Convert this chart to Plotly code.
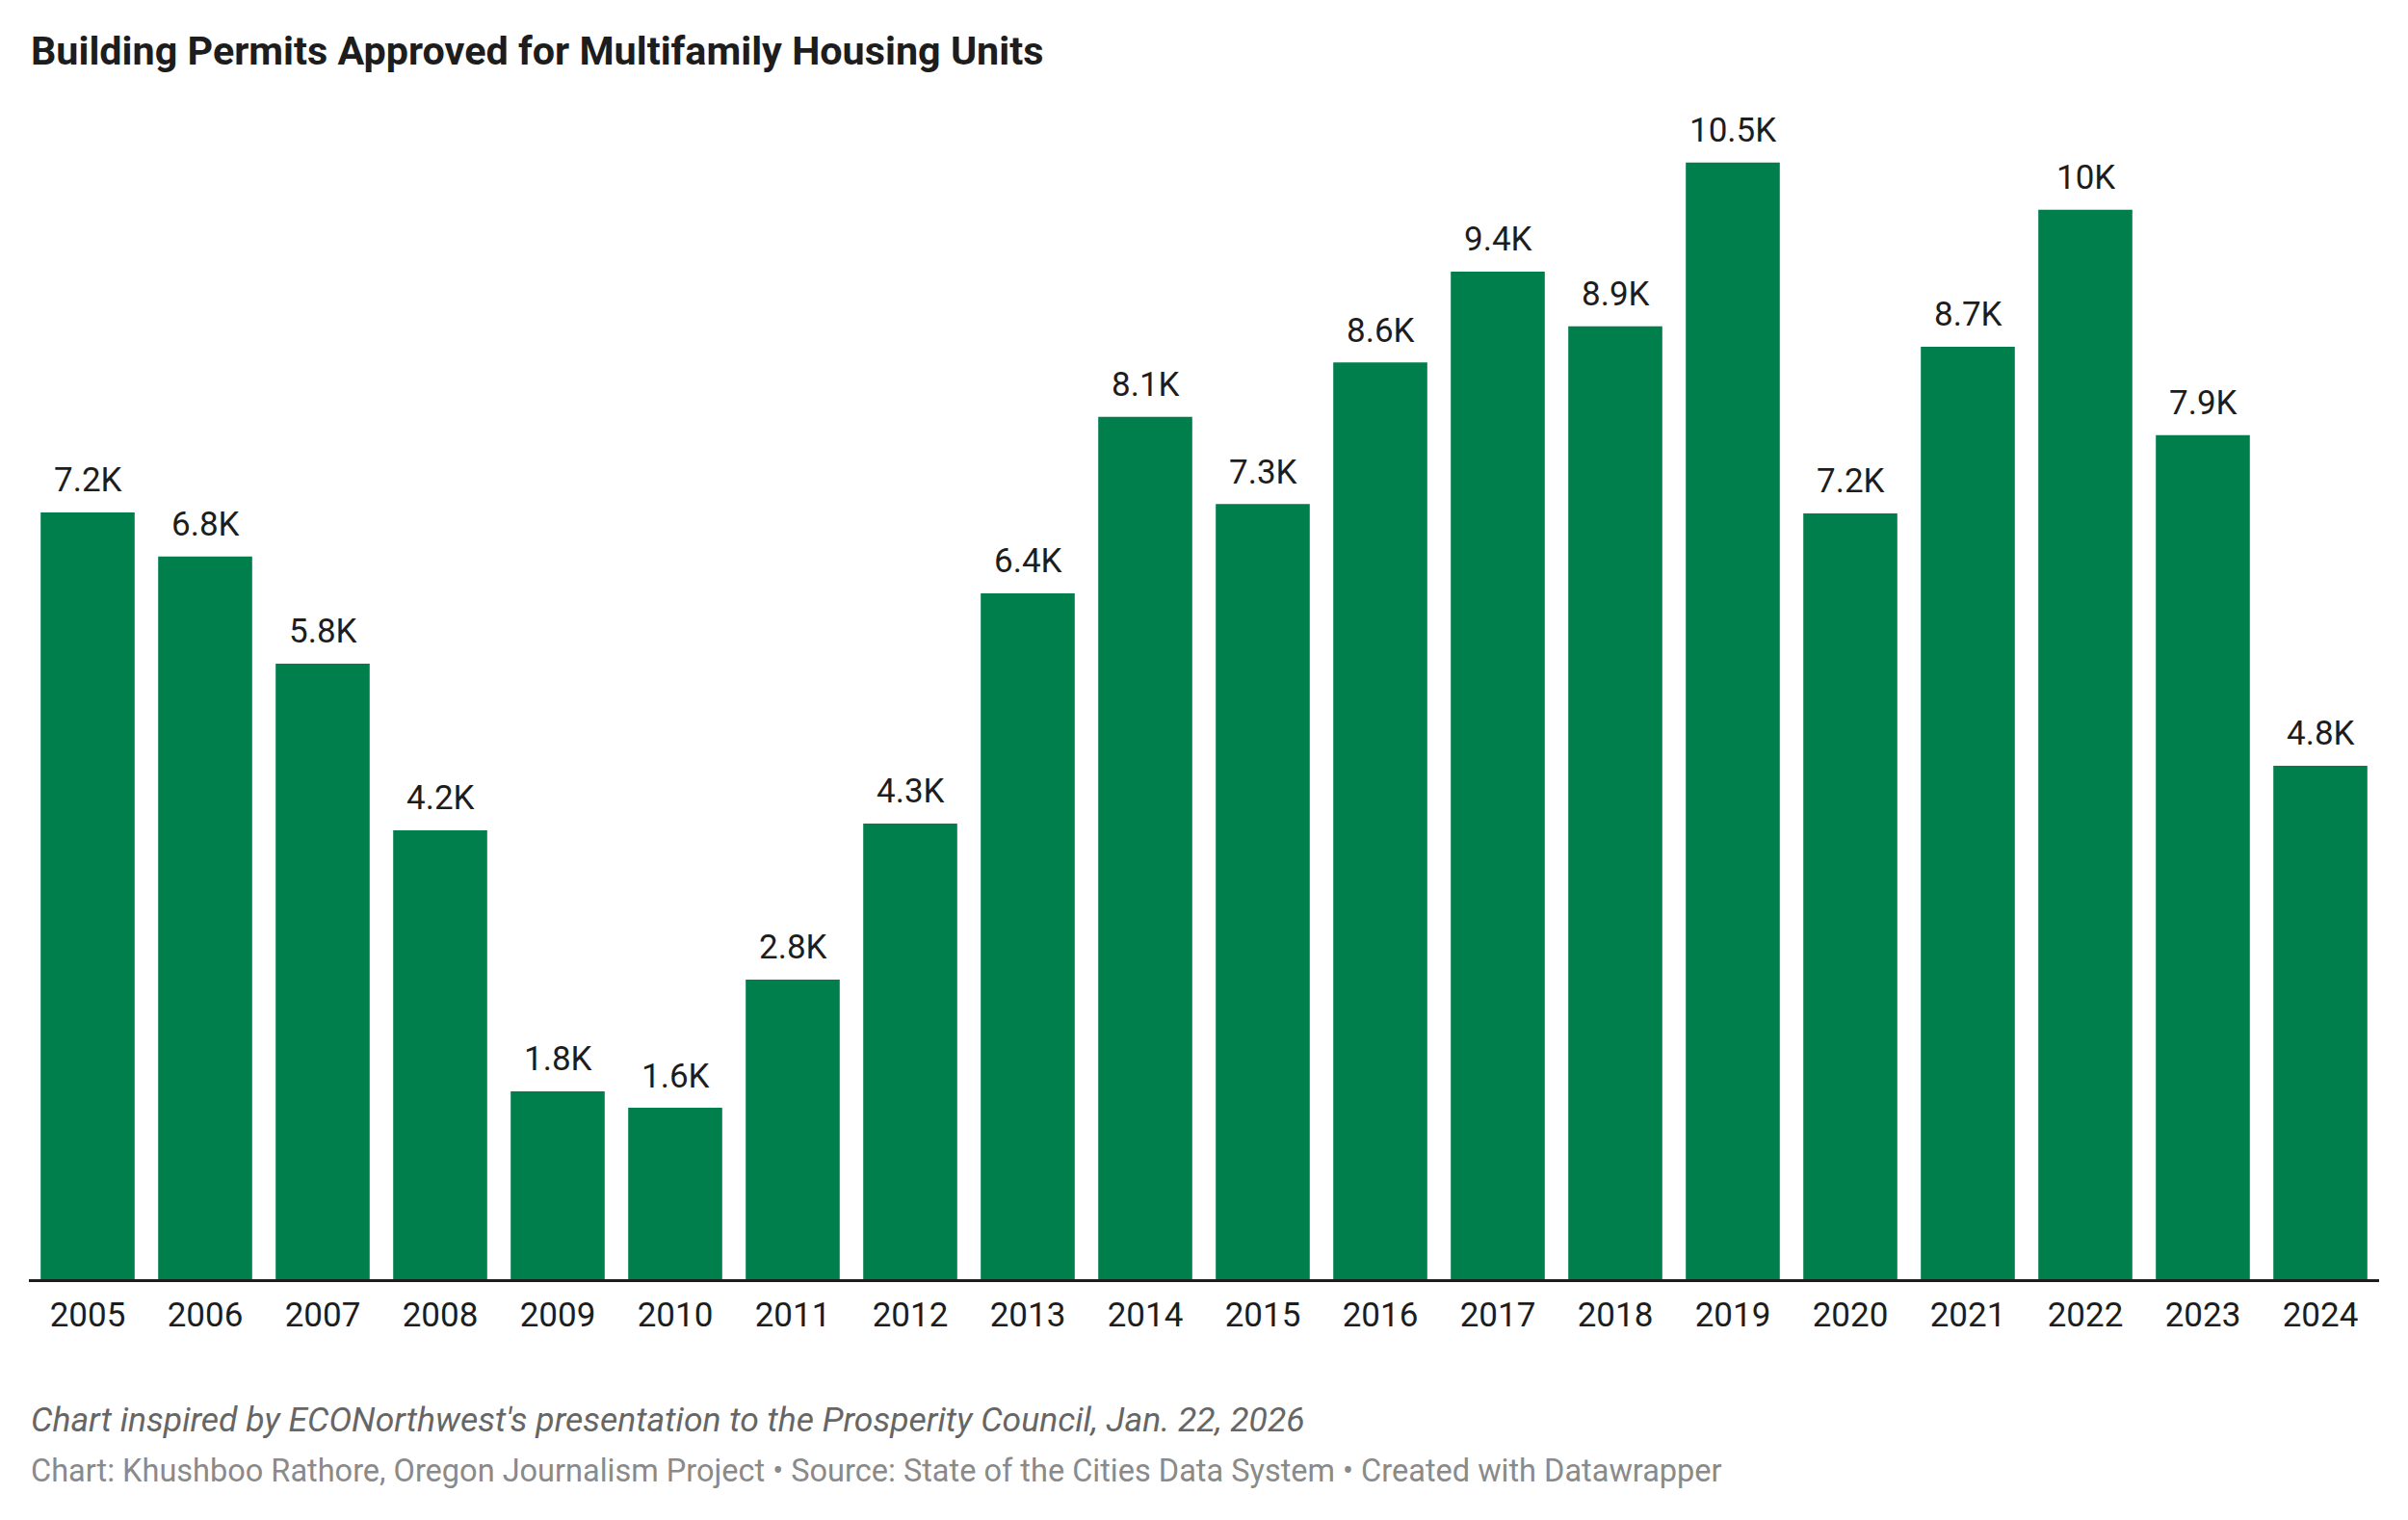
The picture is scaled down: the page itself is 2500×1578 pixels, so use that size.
import plotly.graph_objects as go

years = ["2005", "2006", "2007", "2008", "2009", "2010", "2011", "2012", "2013", "2014",
         "2015", "2016", "2017", "2018", "2019", "2020", "2021", "2022", "2023", "2024"]
permits = [7184, 6769, 5767, 4206, 1760, 1606, 2807, 4269, 6426, 8078,
           7261, 8588, 9440, 8926, 10460, 7175, 8736, 10018, 7906, 4810]

title_text = "Building Permits Approved for Multifamily Housing Units"
note_text = "Chart inspired by ECONorthwest's presentation to the Prosperity Council, Jan. 22, 2026"
source_text = ("Chart: Khushboo Rathore, Oregon Journalism Project \u2022 Source: State of the Cities Data System "
               "\u2022 Created with Datawrapper")


def fmt_k(v):
    s = f"{v / 1000:.1f}"
    if s.endswith(".0"):
        s = s[:-2]
    return s + "K"


BAR = "#007E4C"
TXT = "#1d1d1d"
FONT = "Roboto"

fig = go.Figure()
fig.add_trace(go.Bar(x=years, y=permits, marker=dict(color=BAR, line=dict(width=0)),
                     hoverinfo="x+y"))

annotations = []
for i, v in enumerate(permits):
    annotations.append(dict(x=i, y=v, xref="x", yref="y", text=fmt_k(v), showarrow=False,
                            yanchor="middle", xanchor="center", yshift=33,
                            font=dict(family=FONT, size=35, color=TXT)))

annotations.append(dict(x=0, y=1.0459, xref="paper", yref="paper", text=title_text, showarrow=False,
                        xanchor="left", yanchor="middle",
                        font=dict(family=FONT, size=41.3, color=TXT, weight=700)))
annotations.append(dict(x=0, y=-0.1195, xref="paper", yref="paper", text=note_text, showarrow=False,
                        xanchor="left", yanchor="middle",
                        font=dict(family=FONT, size=35.5, color="#666666", style="italic")))
annotations.append(dict(x=0, y=-0.1632, xref="paper", yref="paper", text=source_text, showarrow=False,
                        xanchor="left", yanchor="middle",
                        font=dict(family=FONT, size=32.5, color="#8a8a8a")))

fig.update_layout(
    width=2484, height=1562,
    margin=dict(l=22, r=22, t=101, b=242, pad=0, autoexpand=False),
    paper_bgcolor="white", plot_bgcolor="white",
    bargap=0.2,
    showlegend=False,
    annotations=annotations,
    xaxis=dict(type="category", range=[-0.5, len(years) - 0.5], showline=True,
               linecolor="#1d1d1d", linewidth=2.5, automargin=False,
               ticks="", ticklabelstandoff=4, showgrid=False, zeroline=False,
               tickfont=dict(family=FONT, size=35, color=TXT), fixedrange=True),
    yaxis=dict(range=[0, 11000], showgrid=False, zeroline=False, showticklabels=False,
               ticks="", showline=False, fixedrange=True, automargin=False),
)

fig.write_html("out.html")
